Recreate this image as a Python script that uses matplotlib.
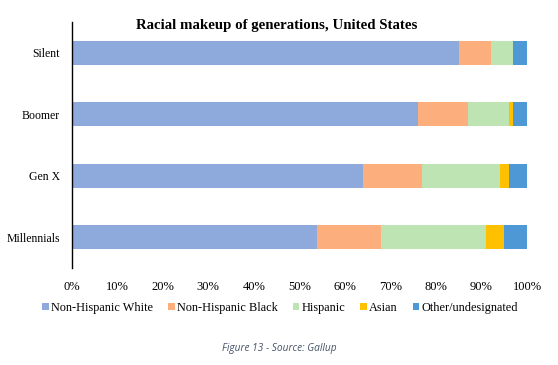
import matplotlib
matplotlib.use("Agg")
import matplotlib.pyplot as plt
from matplotlib.ticker import PercentFormatter

generations = ["Silent", "Boomer", "Gen X", "Millennials"]
groups = ["Non-Hispanic White", "Non-Hispanic Black", "Hispanic", "Asian", "Other/undesignated"]
white = [85, 76, 64, 54]
black = [7, 11, 13, 14]
hispanic = [5, 9, 17, 23]
asian = [0, 1, 2, 4]
other = [3, 3, 4, 5]
colors = ["#8EA9DB", "#FCAE7C", "#BEE4B4", "#FFC000", "#4E98D6"]

series = [white, black, hispanic, asian, other]

fig = plt.figure(figsize=(5.58, 3.65), dpi=100)
ax = fig.add_axes([71.5 / 558, 1 - 268 / 365, (527 - 71.5) / 558, (268 - 22) / 365])

ypos = list(range(len(generations)))
left = [0] * len(generations)
for name, vals, c in zip(groups, series, colors):
    ax.barh(ypos, vals, left=left, height=0.39, color=c, label=name)
    left = [l + v for l, v in zip(left, vals)]

ax.set_ylim(3.5, -0.5)
ax.set_xlim(0, 100)
ax.set_yticks(ypos)
ax.set_yticklabels(generations, family="Liberation Serif", fontsize=8.5)
ax.set_xticks(range(0, 101, 10))
ax.xaxis.set_major_formatter(PercentFormatter(decimals=0))
for lab in ax.get_xticklabels():
    lab.set_family("Liberation Serif")
    lab.set_fontsize(9)
ax.tick_params(axis="both", length=0)
ax.tick_params(axis="x", pad=9)
ax.tick_params(axis="y", pad=8.3)
for s in ["top", "right", "bottom"]:
    ax.spines[s].set_visible(False)
ax.spines["left"].set_color("black")
ax.spines["left"].set_linewidth(1)

fig.text(277 / 558, 1 - 26 / 365, "Racial makeup of generations, United States",
         ha="center", va="center", family="Liberation Serif", fontweight="bold", fontsize=10.7)

fig.legend(loc="center", bbox_to_anchor=(280 / 558, 1 - 308 / 365), ncol=5, frameon=False,
           prop={"family": "Liberation Serif", "size": 8.8}, handlelength=0.55, handleheight=0.55,
           handletextpad=0.15, columnspacing=1.25)

fig.text(279 / 558, 1 - 349 / 365, "Figure 13 - Source: Gallup", ha="center", va="center",
         style="italic", fontsize=7.3, color="#44546A", family="Open Sans")

fig.savefig("out.png", dpi=100)
